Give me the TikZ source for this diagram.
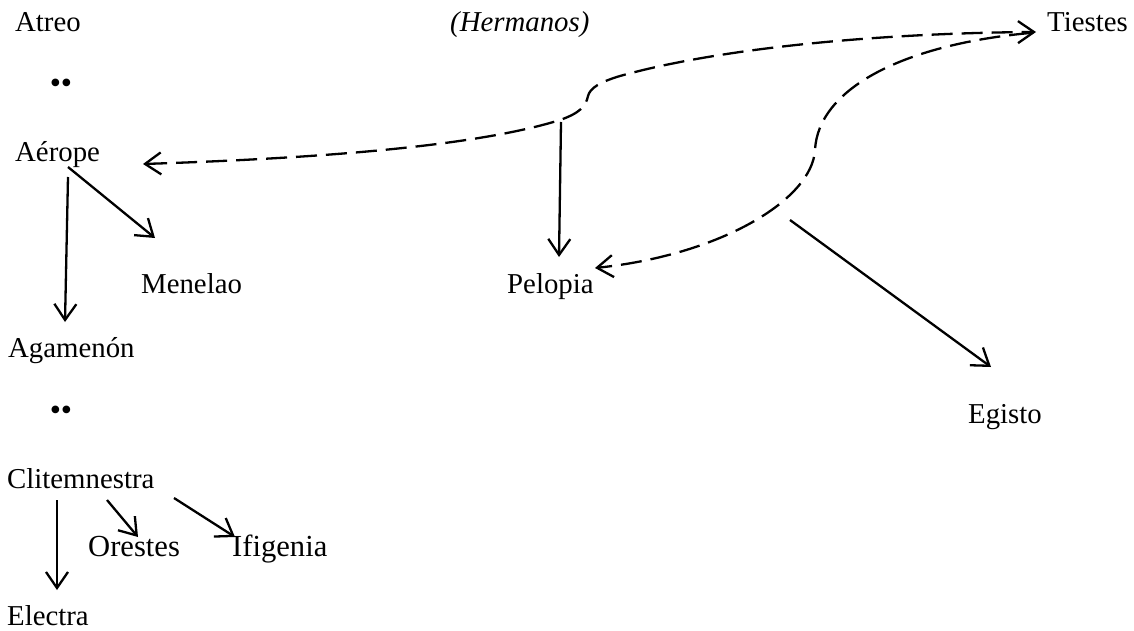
\documentclass[tikz,border=0pt]{standalone}
\usepackage{fontspec}
\setmainfont{Liberation Serif}
\usetikzlibrary{arrows.meta}

\tikzset{
  person/.style={inner sep=0pt, anchor=base west, font=\fontsize{28.8}{34}\selectfont},
  wideperson/.style={person, font=\fontsize{30.6}{34}\selectfont},
  bulletpair/.style={inner sep=0pt, anchor=center, font=\fontsize{32}{34}\selectfont},
  link/.style={line width=2.3pt, -{Straight Barb[length=16pt,width=22pt,line width=2.3pt]}},
  twoway/.style={line width=2.3pt, dash pattern=on 21pt off 9pt,
    {Straight Barb[length=16pt,width=22pt,line width=2.3pt]}-{Straight Barb[length=16pt,width=22pt,line width=2.3pt]}},
  oneway/.style={line width=2.3pt, dash pattern=on 21pt off 9pt,
    -{Straight Barb[length=16pt,width=22pt,line width=2.3pt]}}
}

\begin{document}
\begin{tikzpicture}[x=1pt,y=-1pt]
  \useasboundingbox (0,0) rectangle (1134,631);

  % family names
  \node[person] (atreo)   at (15,32)   {Atreo};
  \node[person] (herm)    at (450,32)  {\itshape (Hermanos)};
  \node[person] (tiestes) at (1047,32) {Tiestes};
  \node[bulletpair] (dotsA) at (61,86) {••};
  \node[person] (aerope)  at (15,162)  {Aérope};
  \node[person] (menelao) at (141,293) {Menelao};
  \node[person] (pelopia) at (507,293) {Pelopia};
  \node[person] (agamen)  at (8,357)   {Agamenón};
  \node[bulletpair] (dotsB) at (61,413) {••};
  \node[person] (egisto)  at (968,423) {Egisto};
  \node[person] (clitem)  at (7,488)   {Clitemnestra};
  \node[wideperson] (orestes) at (88,556)  {Orestes};
  \node[wideperson] (ifigen)  at (232,556) {Ifigenia};
  \node[person] (electra) at (7,625)   {Electra};

  % connector ends
  \coordinate (aerS1) at (68,177);  \coordinate (agaT) at (65,322);
  \coordinate (aerS2) at (68,167);  \coordinate (menT) at (155,238);
  \coordinate (cliS1) at (57,500);  \coordinate (eleT) at (57,590);
  \coordinate (cliS2) at (107,500); \coordinate (oreT) at (138,537);
  \coordinate (cliS3) at (174,498); \coordinate (ifiT) at (235,537);
  \coordinate (aerT)  at (143,164);
  \coordinate (tieT)  at (1036,32);
  \coordinate (tieS)  at (1030,33);
  \coordinate (pelT)  at (595,268);
  \coordinate (hubP)  at (561,122); \coordinate (pelT2) at (559,257);
  \coordinate (hubE)  at (790,220); \coordinate (egiT)  at (991,367);

  % Aérope's children
  \draw[link] (aerS1) -- (agaT);
  \draw[link] (aerS2) -- (menT);

  % Clitemnestra's children
  \draw[link] (cliS1) -- (eleT);
  \draw[link] (cliS2) -- (oreT);
  \draw[link] (cliS3) -- (ifiT);

  % Tiestes and Aérope
  \draw[twoway] (aerT) .. controls (330,158) and (480,145) .. (560,120)
        .. controls (580,113) and (586,106) .. (588,96)
        .. controls (590,88) and (600,82) .. (620,76)
        .. controls (720,48) and (880,33) .. (tieT);

  % Tiestes and Pelopia
  \draw[oneway] (tieS) .. controls (900,45) and (818,90) .. (815,150)
        .. controls (812,200) and (720,255) .. (pelT);

  % offspring
  \draw[link] (hubP) -- (pelT2);
  \draw[link] (hubE) -- (egiT);
\end{tikzpicture}
\end{document}
